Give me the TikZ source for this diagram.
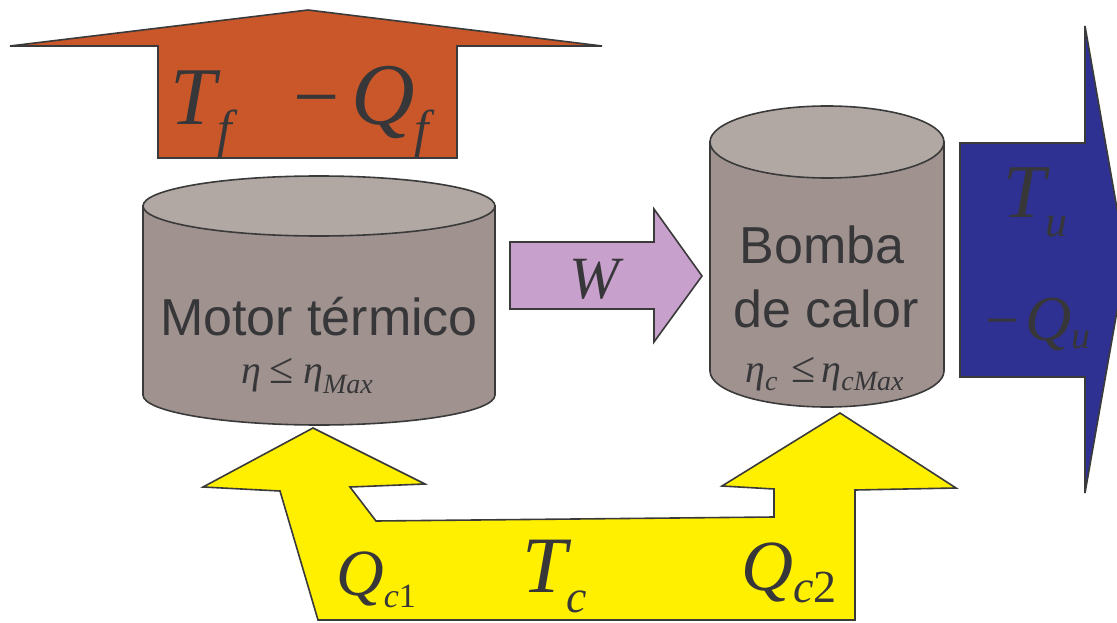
\documentclass[tikz,border=0pt]{standalone}
\usepackage{fontspec}
\setmainfont{Liberation Serif}
\newfontfamily\arialf{Liberation Sans}
\definecolor{strokegray}{RGB}{58,58,58}
\definecolor{txtgray}{RGB}{55,55,58}
\definecolor{orangeA}{RGB}{201,87,42}
\definecolor{cylbody}{RGB}{160,147,143}
\definecolor{cyltop}{RGB}{177,167,163}
\definecolor{purpleA}{RGB}{200,160,204}
\definecolor{blueA}{RGB}{46,49,146}
\definecolor{yellowA}{RGB}{255,240,0}
\newcommand\fsz[1]{\fontsize{#1}{#1}\selectfont}
\tikzset{
  outline/.style={draw=strokegray, line width=1.6pt, line join=miter},
  lbl/.style={inner sep=0pt, text=txtgray, anchor=base west},
  clbl/.style={inner sep=0pt, text=txtgray, anchor=base},
}
\begin{document}
\begin{tikzpicture}[x=1pt,y=-1pt]
\useasboundingbox (0,0) rectangle (1117,623);

% top orange arrow
\path[outline, fill=orangeA] (10,46) -- (308,10) -- (602,46) -- (457,46) -- (457,158) -- (158,158) -- (158,46) -- cycle;
\node[lbl] (Tf) at (170,125) {\fsz{82}\itshape T\hspace{2pt}\raisebox{-22pt}{\fsz{52}f}};
\node[lbl] (Qf) at (293,125) {\fsz{82}\upshape −\hspace{12pt}\fsz{88}\itshape Q\raisebox{-22pt}{\fsz{52}f}};

% blue arrow
\path[outline, fill=blueA] (960,143) -- (1085,143) -- (1085,26) -- (1126,260) -- (1085,493) -- (1085,377) -- (960,377) -- cycle;
\node[lbl] (Tu) at (1003,218) {\fsz{76}\itshape T\raisebox{-19pt}{\fsz{44}u}};
\node[lbl] (Qu) at (985,340) {\fsz{60}\upshape −\hspace{6pt}\fsz{64}\itshape Q\raisebox{-8pt}{\fsz{38}u}};

% purple arrow
\path[outline, fill=purpleA] (510,242) -- (654,242) -- (654,209) -- (702,276) -- (654,342) -- (654,309) -- (510,309) -- cycle;
\node[clbl] (W) at (594,298) {\fsz{60}\itshape W};

% yellow arrow
\path[outline, fill=yellowA] (313,428) -- (425,484) -- (350,487) -- (376,521) -- (774,517) -- (774,489) -- (722,486) -- (840,413) -- (956,488) -- (855,490) -- (855,620) -- (318,620) -- (280,491) -- (203,487) -- cycle;
\node[lbl] (Qc1) at (336,595) {\fsz{66}\itshape Q\raisebox{-12pt}{\fsz{34}c\upshape 1}};
\node[lbl] (Tc) at (522,592) {\fsz{80}\itshape T\raisebox{-20pt}{\fsz{46}c}};
\node[lbl] (Qc2) at (741,590) {\fsz{72}\itshape Q\raisebox{-12pt}{\fsz{46}c\upshape 2}};

% cylinder 1
\path[outline, fill=cylbody] (143,206) -- (143,395) arc (180:0:176 and 30) -- (495,206) -- cycle;
\path[outline, fill=cyltop] (319,206) ellipse (176 and 30);
\node[clbl] (motor) at (319,335) {\arialf\fsz{52}Motor térmico};
\node[lbl] (eta1) at (241,383) {\fsz{40}\itshape η\hspace{8pt}\upshape\fsz{44}≤\hspace{10pt}\fsz{40}\itshape η\raisebox{-10pt}{\fsz{28}Max}};

% cylinder 2
\path[outline, fill=cylbody] (710,142) -- (710,371) arc (180:0:117 and 36) -- (944,142) -- cycle;
\path[outline, fill=cyltop] (827,142) ellipse (117 and 36);
\node[clbl] (bomba) at (822,263) {\arialf\fsz{52}Bomba};
\node[clbl] (calor) at (826,327) {\arialf\fsz{52}de calor};
\node[lbl] (eta2) at (745,382) {\fsz{40}\itshape η\raisebox{-8pt}{\fsz{28}c}\hspace{14pt}\upshape\fsz{44}≤\hspace{6pt}\fsz{40}\itshape η\raisebox{-8pt}{\fsz{28}cMax}};
\end{tikzpicture}
\end{document}
